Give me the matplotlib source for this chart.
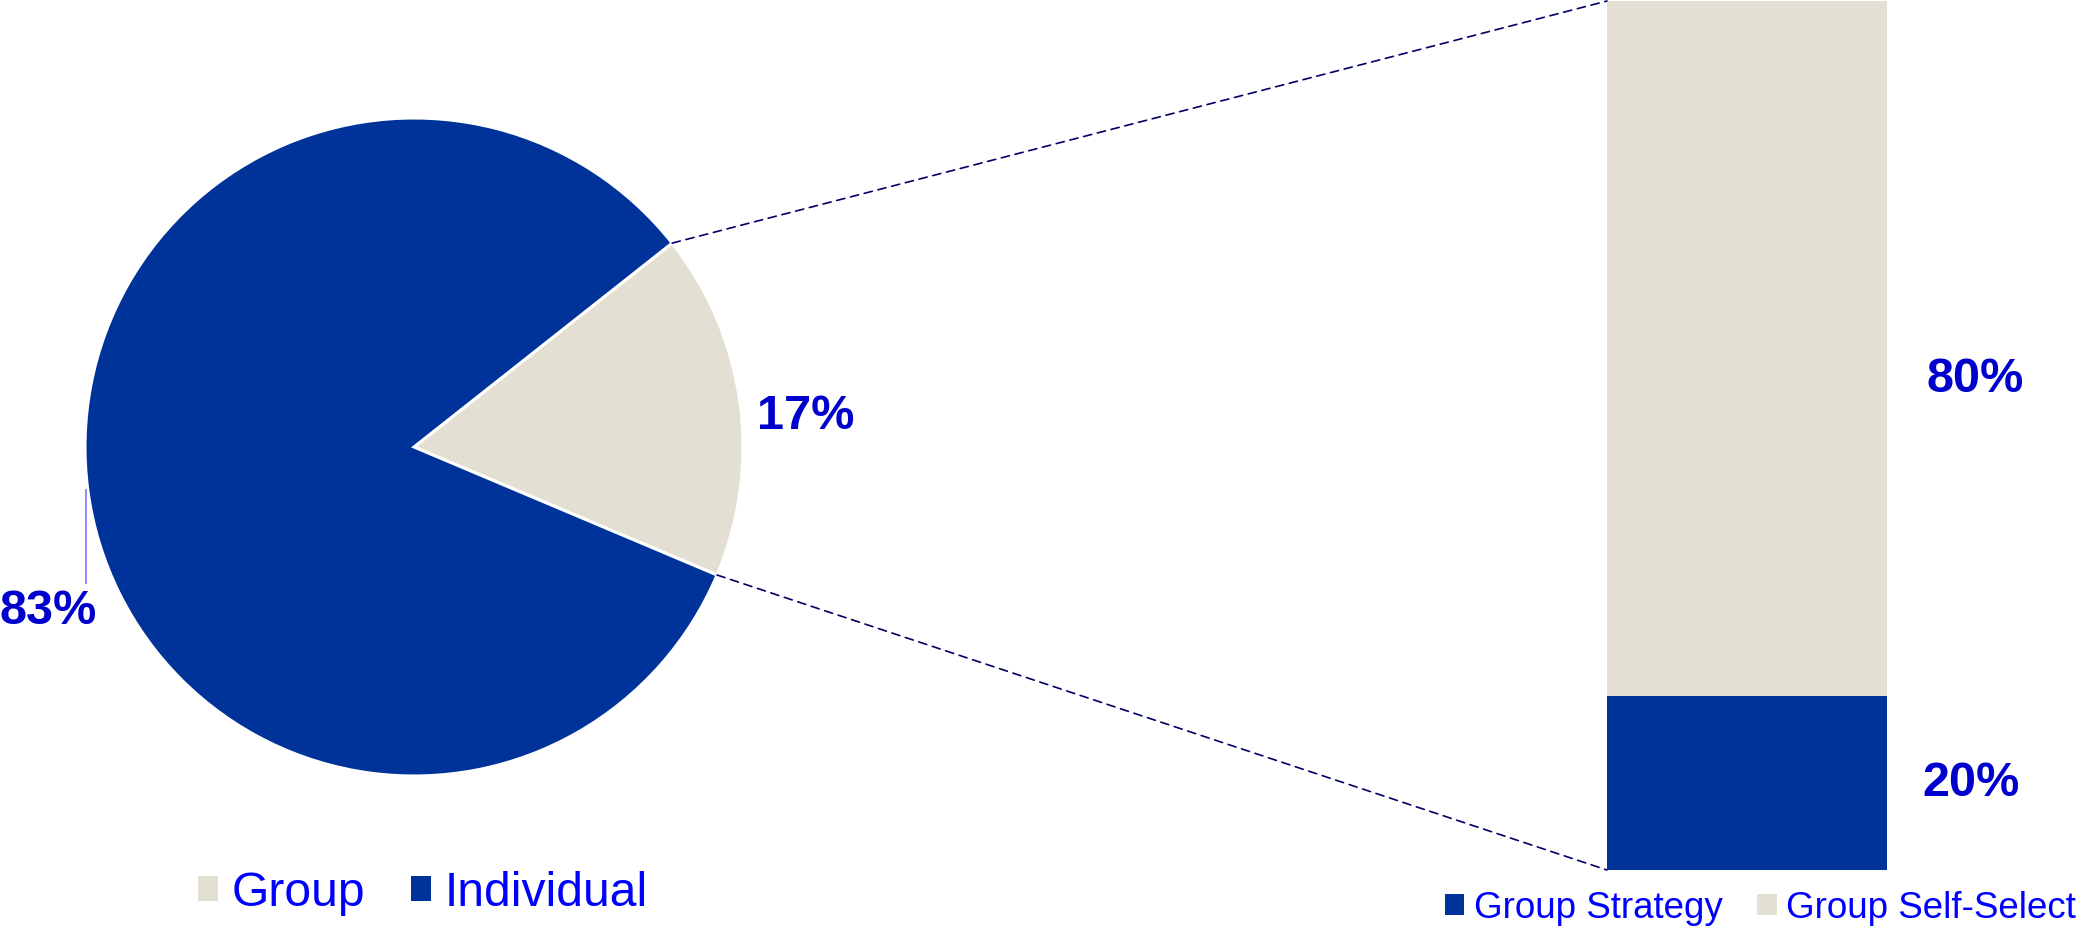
import matplotlib
matplotlib.use("Agg")
import matplotlib.pyplot as plt
from matplotlib.patches import Rectangle, ConnectionPatch
import numpy as np

plt.rcParams['font.family'] = ['Liberation Sans', 'DejaVu Sans']

# Pie: split of plans
pie_labels = ["Group", "Individual"]
pie_values = [17, 83]
pie_colors = ["#E3E0D3", "#003399"]

# Stacked bar: breakdown of the Group slice
bar_labels = ["Group Strategy", "Group Self-Select"]
bar_values = [20, 80]
bar_colors = ["#003399", "#E3E0D3"]

label_color = "#0000CC"
legend_color = "#0000FF"
start_angle = -22.9

W, H = 2082, 926
fig = plt.figure(figsize=(W / 100, H / 100), dpi=100)

# ---- pie ----
cx, cy, r = 414, 447, 329
ax_pie = fig.add_axes([(cx - r) / W, (H - cy - r) / H, 2 * r / W, 2 * r / H])
wedges, _ = ax_pie.pie(pie_values, colors=pie_colors, startangle=start_angle,
                       counterclock=True, radius=1,
                       wedgeprops=dict(edgecolor="white", linewidth=2.2))
ax_pie.set_xlim(-1, 1)
ax_pie.set_ylim(-1, 1)
ax_pie.set_aspect("equal")
ax_pie.axis("off")

ax_pie.text(1.19, 0.094, f"{pie_values[0]}%", color=label_color, fontsize=35,
            fontweight="bold", ha="center", va="center")
ax_pie.text(-1.111, -0.501, f"{pie_values[1]}%", color=label_color, fontsize=35,
            fontweight="bold", ha="center", va="center")
ax_pie.plot([-0.997, -0.997], [-0.131, -0.413], color="#8080FF", lw=1.3,
            clip_on=False)

# ---- stacked bar ----
bx0, bx1, by0, by1 = 1607, 1887, 1, 870
ax_bar = fig.add_axes([bx0 / W, (H - by1) / H, (bx1 - bx0) / W, (by1 - by0) / H])
bottom = 0
for val, col in zip(bar_values, bar_colors):
    ax_bar.bar(0, val, width=1, bottom=bottom, color=col, edgecolor="none")
    bottom += val
ax_bar.set_xlim(-0.5, 0.5)
ax_bar.set_ylim(0, sum(bar_values))
ax_bar.axis("off")

ax_bar.text(0.814, 56.4, f"{bar_values[1]}%", color=label_color, fontsize=35,
            fontweight="bold", ha="center", va="center", clip_on=False)
ax_bar.text(0.80, 9.9, f"{bar_values[0]}%", color=label_color, fontsize=35,
            fontweight="bold", ha="center", va="center", clip_on=False)

# ---- connector lines from the Group wedge to the bar ----
theta1 = np.deg2rad(start_angle)
theta2 = np.deg2rad(start_angle + 360 * pie_values[0] / sum(pie_values))
for theta, ybar in [(theta2, sum(bar_values)), (theta1, 0)]:
    con = ConnectionPatch(xyA=(np.cos(theta), np.sin(theta)), coordsA=ax_pie.transData,
                          xyB=(-0.5, ybar), coordsB=ax_bar.transData,
                          color="#000066", lw=1.2, linestyle=(0, (5, 3.5)))
    fig.add_artist(con)

# ---- legends ----
pie_handles = [Rectangle((0, 0), 1, 1, facecolor=c, edgecolor="none") for c in pie_colors]
leg1 = fig.legend(pie_handles, pie_labels, loc="center left",
                  bbox_to_anchor=(198 / W, 1 - 893 / H), ncol=2, frameon=False,
                  fontsize=34.6, handlelength=0.42, handleheight=0.42,
                  handletextpad=0.28, columnspacing=0.95, borderpad=0,
                  borderaxespad=0, labelcolor=legend_color)

bar_handles = [Rectangle((0, 0), 1, 1, facecolor=c, edgecolor="none") for c in bar_colors]
leg2 = fig.legend(bar_handles, bar_labels, loc="center left",
                  bbox_to_anchor=(1445 / W, 1 - 908 / H), ncol=2, frameon=False,
                  fontsize=26.5, handlelength=0.52, handleheight=0.52,
                  handletextpad=0.26, columnspacing=0.95, borderpad=0,
                  borderaxespad=0, labelcolor=legend_color)

fig.savefig("out.png", dpi=100, facecolor="white")
